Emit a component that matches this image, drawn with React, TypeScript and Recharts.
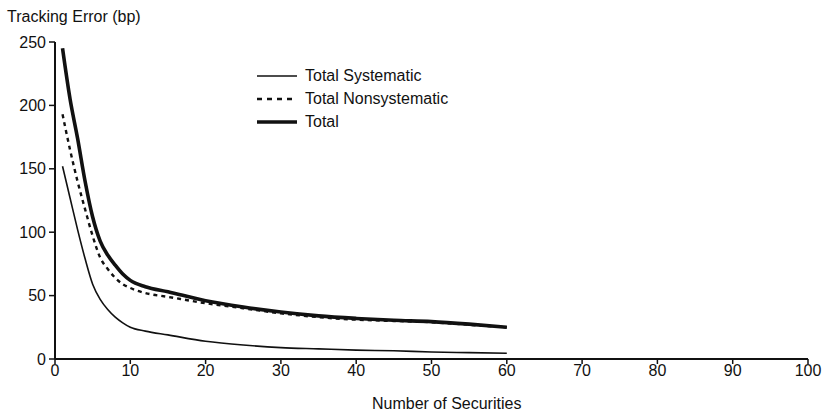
import React from "react";
import { LineChart, Line, XAxis, YAxis } from "recharts";

const securities = [1, 2, 3, 4, 5, 6, 7, 8, 9, 10, 12, 15, 20, 25, 30, 35, 40, 45, 50, 55, 60];
const totalSystematic = [152, 127, 102, 79, 59, 47, 39, 33, 28.5, 25, 22, 19, 14, 11, 9, 8, 7, 6.5, 5.5, 5, 4.5];
const totalNonsystematic = [193, 165, 140, 118, 97, 80, 71, 64, 59, 56, 52, 49, 44, 40, 36, 33, 31, 30, 29, 27, 25];
const total = [245, 205, 174, 140, 112, 93, 82, 74, 67, 62, 57, 53, 46, 41, 37, 34, 32, 30.5, 29.5, 27.5, 25];

const xTicks = [0, 10, 20, 30, 40, 50, 60, 70, 80, 90, 100];
const yTicks = [0, 50, 100, 150, 200, 250];

const seriesNames = {
  sys: "Total Systematic",
  nonsys: "Total Nonsystematic",
  total: "Total",
};

const data = securities.map((n, i) => ({
  n,
  sys: totalSystematic[i],
  nonsys: totalNonsystematic[i],
  total: total[i],
}));

const FONT = "'Liberation Sans', Arial, Helvetica, sans-serif";

const legendItems = [
  { key: "sys", w: 1.6, dash: undefined as string | undefined },
  { key: "nonsys", w: 2.4, dash: "5 5" },
  { key: "total", w: 3.6, dash: undefined as string | undefined },
];

export default function App() {
  return (
    <div style={{ position: "absolute", left: 0, top: 0, width: 825, height: 415, background: "#fff" }}>
      <div style={{ position: "absolute", left: 7, top: 7, fontFamily: FONT, fontSize: 16, color: "#111", lineHeight: "20px" }}>
        Tracking Error (bp)
      </div>
      <div style={{ position: "absolute", left: 372, top: 394, fontFamily: FONT, fontSize: 16, color: "#111", lineHeight: "20px" }}>
        Number of Securities
      </div>
      <div style={{ position: "absolute", left: 255, top: 64, fontFamily: FONT, fontSize: 16, color: "#111", zIndex: 2 }}>
        {legendItems.map((it) => (
          <div key={it.key} style={{ display: "flex", alignItems: "center", height: 23 }}>
            <svg width={44} height={10} style={{ marginRight: 6 }}>
              <line x1={2} y1={5} x2={42} y2={5} stroke="#111" strokeWidth={it.w} strokeDasharray={it.dash} />
            </svg>
            <span>{(seriesNames as any)[it.key]}</span>
          </div>
        ))}
      </div>
      <LineChart width={825} height={415} data={data} margin={{ top: 42, right: 17, bottom: 26, left: 0 }}>
        <XAxis
          dataKey="n"
          type="number"
          domain={[0, 100]}
          ticks={xTicks}
          interval={0}
          height={30}
          tickSize={5}
          tickMargin={1}
          axisLine={{ stroke: "#111", strokeWidth: 2 }}
          tickLine={{ stroke: "#111", strokeWidth: 1.5 }}
          tick={{ fill: "#111", fontSize: 16, fontFamily: FONT }}
        />
        <YAxis
          type="number"
          domain={[0, 250]}
          ticks={yTicks}
          interval={0}
          width={55}
          tickSize={6}
          tickMargin={3}
          axisLine={{ stroke: "#111", strokeWidth: 2 }}
          tickLine={{ stroke: "#111", strokeWidth: 1.5 }}
          tick={{ fill: "#111", fontSize: 16, fontFamily: FONT }}
        />
        <Line
          type="monotone"
          dataKey="total"
          name={seriesNames.total}
          stroke="#111"
          strokeWidth={3.6}
          dot={false}
          isAnimationActive={false}
        />
        <Line
          type="monotone"
          dataKey="nonsys"
          name={seriesNames.nonsys}
          stroke="#111"
          strokeWidth={2.4}
          strokeDasharray="4 4"
          dot={false}
          isAnimationActive={false}
        />
        <Line
          type="monotone"
          dataKey="sys"
          name={seriesNames.sys}
          stroke="#111"
          strokeWidth={1.6}
          dot={false}
          isAnimationActive={false}
        />
      </LineChart>
    </div>
  );
}
